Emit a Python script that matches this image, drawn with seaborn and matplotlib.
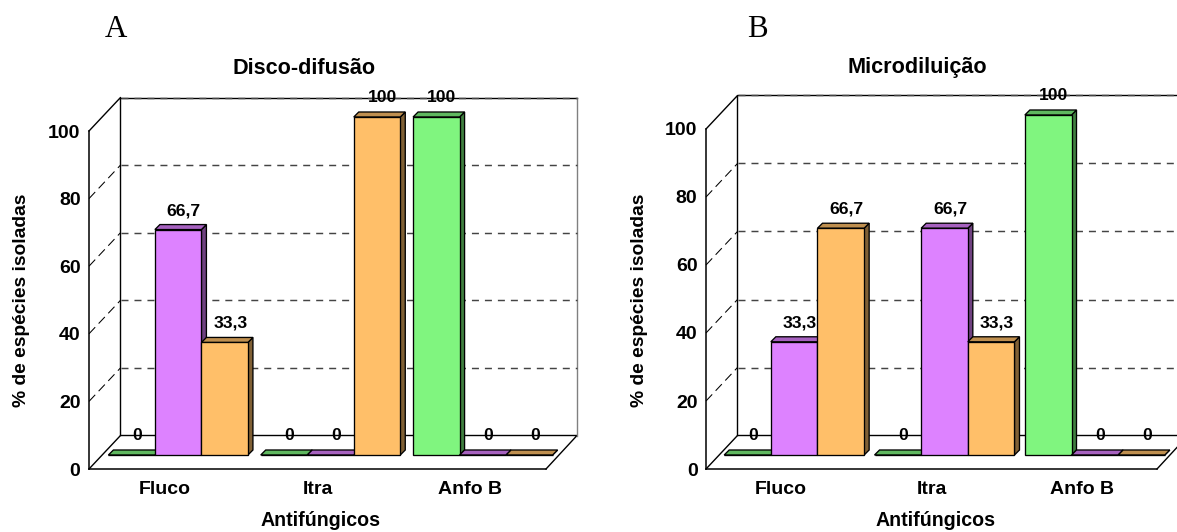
import matplotlib
matplotlib.use("Agg")
import matplotlib.pyplot as plt
from matplotlib.patches import Polygon
from matplotlib.transforms import Affine2D
import pandas as pd
import seaborn as sns

# Susceptibility results, percent of isolated species
antifungicos = ["Fluco", "Itra", "Anfo B"]
respostas = ["Sensível", "Dose-dependente", "Resistente"]

disco_sensivel = [0, 0, 100]
disco_sdd = [66.7, 0, 0]
disco_resistente = [33.3, 100, 0]

micro_sensivel = [0, 0, 100]
micro_sdd = [33.3, 66.7, 0]
micro_resistente = [66.7, 33.3, 0]

y_ticks = [0, 20, 40, 60, 80, 100]

FRONT = {"Sensível": "#80F57F", "Dose-dependente": "#DD82FF", "Resistente": "#FFBF69"}
TOP = {"Sensível": "#5FB85F", "Dose-dependente": "#A661BF", "Resistente": "#BF8F4F"}
SIDE = {"Sensível": "#408040", "Dose-dependente": "#6F4180", "Resistente": "#806035"}

W, H = 1177, 532
DPI = 100
PT = 72 / DPI  # points per pixel

sns.set_theme(style="white", rc={"axes.edgecolor": "black", "xtick.color": "black",
                                 "ytick.color": "black", "axes.labelcolor": "black"})
plt.rcParams["font.family"] = ["Liberation Sans", "DejaVu Sans"]
plt.rcParams["font.weight"] = "bold"

fig = plt.figure(figsize=(W / DPI, H / DPI), dpi=DPI, facecolor="white")


def frame(df_values):
    rows = []
    for resposta, valores in zip(respostas, df_values):
        for antifungico, pct in zip(antifungicos, valores):
            rows.append({"antifungico": antifungico, "resposta": resposta, "pct": pct})
    return pd.DataFrame(rows)


def panel(values, title, letter, box, bar_width, wall_right, title_xy, xlabel_xy, ylabel_xy):
    x0, x1, y100, y0 = box
    ax = fig.add_axes([x0 / W, 1 - y0 / H, (x1 - x0) / W, (y0 - y100) / H])
    ax.patch.set_alpha(0)

    sns.barplot(data=frame(values), x="antifungico", y="pct", hue="resposta",
                hue_order=respostas, order=antifungicos, palette=FRONT,
                width=bar_width, gap=0, errorbar=None, legend=False,
                edgecolor="black", linewidth=0.95, saturation=1, ax=ax)
    ax.set_xlim(-0.5, 2.5)
    ax.set_ylim(0, 100)

    # pixel lengths expressed in data units
    ux = 3 / (x1 - x0)
    uy = 100 / (y0 - y100)
    back_x, back_y = 31.5 * ux, 33.5 * uy
    shift_x, shift_y = 13 * ux, 14 * uy
    deep_x, deep_y = 5 * ux, 5 * uy
    right = -0.5 + (wall_right - x0) * ux

    # back wall, side wall and floor
    lw = 1.0
    left, xmax = -0.5, 2.5
    kw = dict(clip_on=False, zorder=1, solid_capstyle="projecting")
    ax.plot([left, left + back_x, left + back_x], [100, 100 + back_y, back_y], color="black", lw=lw, **kw)
    ax.plot([left, left + back_x, right, xmax], [0, back_y, back_y, 0], color="black", lw=lw, **kw)
    ax.plot([left + back_x, right], [100 + back_y] * 2, color="black", lw=lw, **kw)
    ax.plot([right, right], [back_y, 100 + back_y], color="#808080", lw=lw, **kw)
    for tick in y_ticks[1:]:
        ax.plot([left + back_x, right], [tick + back_y] * 2, color="#444444", lw=1.05,
                dashes=(4.8, 4.1), clip_on=False, zorder=1.5)
    for tick in y_ticks[1:-1]:
        ax.plot([left, left + back_x], [tick, tick + back_y], color="black", lw=0.75,
                dashes=(8.7, 4.8), clip_on=False, zorder=1.5)

    # extrude each bar, left to right, so neighbours overlap correctly
    to_plane = Affine2D().translate(shift_x, shift_y) + ax.transData
    names = [r for r in respostas for _ in antifungicos]
    bars = sorted(zip(ax.patches, names), key=lambda item: item[0].get_x())
    edge = dict(edgecolor="black", linewidth=0.95, clip_on=False, transform=to_plane)
    for i, (bar, name) in enumerate(bars):
        a = bar.get_x()
        b = a + bar.get_width()
        h = bar.get_height()
        z = 3 + i
        ax.add_patch(Polygon([(b, 0), (b + deep_x, deep_y), (b + deep_x, h + deep_y), (b, h)],
                             facecolor=SIDE[name], zorder=z, **edge))
        ax.add_patch(Polygon([(a, h), (a + deep_x, h + deep_y), (b + deep_x, h + deep_y), (b, h)],
                             facecolor=TOP[name], zorder=z, **edge))
        bar.set_transform(to_plane)
        bar.set_clip_on(False)
        bar.set_zorder(z + 0.5)
        text = f"{h:g}".replace(".", ",")
        ax.annotate(text, (a + bar.get_width() / 2 + shift_x, h + shift_y),
                    xytext=(5.5 * PT, 19 * PT), textcoords="offset points",
                    ha="center", va="center", fontsize=17.5 * PT, fontweight="bold",
                    color="black", annotation_clip=False, zorder=100)

    sns.despine(ax=ax, top=True, right=True)
    for side in ("left", "bottom"):
        ax.spines[side].set_linewidth(1.1)
        ax.spines[side].set_zorder(2)

    ax.set_yticks(y_ticks)
    ax.tick_params(axis="y", length=0, pad=8.5 * PT, labelsize=19.5 * PT)
    ax.tick_params(axis="x", length=0, pad=11.5 * PT, labelsize=19.5 * PT)
    ax.set_xlabel("Antifúngicos", fontsize=19.7 * PT, fontweight="bold")
    ax.set_ylabel("% de espécies isoladas", fontsize=19.3 * PT, fontweight="bold")
    ax.xaxis.set_label_coords((xlabel_xy[0] - x0) / (x1 - x0), (y0 - xlabel_xy[1]) / (y0 - y100))
    ax.yaxis.set_label_coords((ylabel_xy[0] - x0) / (x1 - x0), (y0 - ylabel_xy[1]) / (y0 - y100))
    ax.xaxis.label.set_va("center")
    ax.yaxis.label.set_va("center")

    fig.text(title_xy[0] / W, 1 - title_xy[1] / H, title, ha="center", va="center",
             fontsize=21.7 * PT, fontweight="bold", color="black")
    fig.text(letter[1] / W, 1 - letter[2] / H, letter[0], ha="left", va="baseline",
             fontsize=31 * PT, fontweight="normal", family="Liberation Serif", color="black")


panel([disco_sensivel, disco_sdd, disco_resistente], "Disco-difusão", ("A", 105, 37),
      box=(89, 546, 131, 469), bar_width=0.916, wall_right=577,
      title_xy=(304, 68), xlabel_xy=(321, 521), ylabel_xy=(22, 300))
panel([micro_sensivel, micro_sdd, micro_resistente], "Microdiluição", ("B", 747, 37),
      box=(706, 1157, 129, 469), bar_width=0.931, wall_right=1188,
      title_xy=(917, 67), xlabel_xy=(936, 521), ylabel_xy=(639, 300))

fig.savefig("out.png", dpi=DPI, facecolor="white")
